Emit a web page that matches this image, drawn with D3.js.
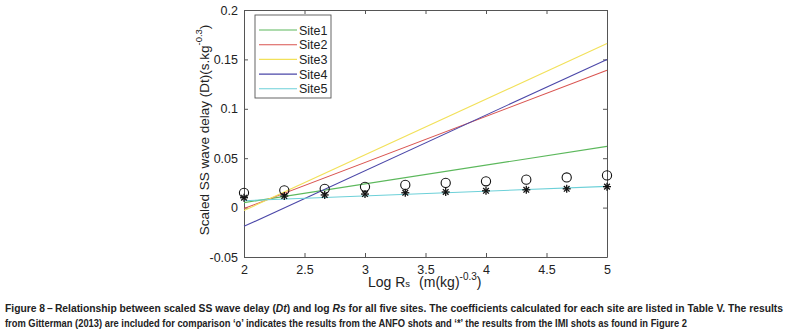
<!DOCTYPE html>
<html>
<head>
<meta charset="utf-8">
<script src="https://cdn.jsdelivr.net/npm/d3@7"></script>
<style>
  body { margin: 0; background: #fff; }
  svg text { font-family: "Liberation Sans", Arial, sans-serif; }
</style>
</head>
<body>
<svg id="mysvg" width="788" height="336"></svg>
<script>
// Fitted lines: value at Log Rs = 2 and at Log Rs = 5
const sites = ['Site1', 'Site2', 'Site3', 'Site4', 'Site5'];
const siteColors = ['#5cb85c', '#d9534f', '#f2e15a', '#4b47a8', '#6cd0d8'];
const lineStart = [0.005, -0.001, -0.003, -0.019, 0.007];
const lineEnd = [0.062, 0.139, 0.166, 0.150, 0.0215];
const lineX = [2, 5];

// Gitterman (2013) points
const logRs = [2, 2.333, 2.667, 3, 3.333, 3.667, 4, 4.333, 4.667, 5];
const anfo = [0.015, 0.0175, 0.019, 0.021, 0.023, 0.025, 0.0266, 0.0283, 0.0305, 0.0326];
const imi = [0.010, 0.0117, 0.0128, 0.0137, 0.015, 0.0158, 0.017, 0.018, 0.019, 0.0212];

const xTicks = [2, 2.5, 3, 3.5, 4, 4.5, 5];
const yTicks = [-0.05, 0, 0.05, 0.1, 0.15, 0.2];

const svg = d3.select('#mysvg');
const margin = {left: 244, right: 181, top: 10, bottom: 79};
const innerWidth = 788 - margin.left - margin.right;
const innerHeight = 336 - margin.top - margin.bottom;

const g = svg.append('g').attr('transform', `translate(${margin.left}, ${margin.top})`);

const x = d3.scaleLinear().domain([2, 5]).range([0, innerWidth]);
const y = d3.scaleLinear().domain([-0.05, 0.2]).range([innerHeight, 0]);

const axisColor = '#555';
const fmtX = d => d3.format('')(d);
const fmtY = d => d === 0 ? '0' : String(+d.toFixed(2));

// Axes (MATLAB style: inward ticks, box)
const xAxis = g.append('g').attr('transform', `translate(0, ${innerHeight})`)
  .call(d3.axisBottom(x).tickValues(xTicks).tickFormat(fmtX).tickSizeInner(-4).tickSizeOuter(0).tickPadding(8));
const xTop = g.append('g')
  .call(d3.axisTop(x).tickValues(xTicks).tickFormat('').tickSizeInner(-4).tickSizeOuter(0));
const yAxis = g.append('g')
  .call(d3.axisLeft(y).tickValues(yTicks).tickFormat(fmtY).tickSizeInner(-4).tickSizeOuter(0).tickPadding(6));
const yRight = g.append('g').attr('transform', `translate(${innerWidth}, 0)`)
  .call(d3.axisRight(y).tickValues(yTicks).tickFormat('').tickSizeInner(-4).tickSizeOuter(0));

xTop.selectAll('text').remove();
yRight.selectAll('text').remove();

[xAxis, xTop, yAxis, yRight].forEach(a => {
  a.selectAll('path').attr('stroke', axisColor);
  a.selectAll('line').attr('stroke', axisColor);
  a.selectAll('text').attr('fill', '#222').style('font-size', '12.5px');
});

// Fitted lines
const lineGen = d3.line().x(d => x(d[0])).y(d => y(d[1]));
sites.forEach((s, i) => {
  g.append('path')
    .datum([[lineX[0], lineStart[i]], [lineX[1], lineEnd[i]]])
    .attr('d', lineGen)
    .attr('fill', 'none')
    .attr('stroke', siteColors[i])
    .attr('stroke-width', 1.1);
});

// ANFO circles
g.selectAll('.anfo')
  .data(logRs)
  .join('circle')
  .attr('class', 'anfo')
  .attr('cx', d => x(d))
  .attr('cy', (d, i) => y(anfo[i]))
  .attr('r', 4.6)
  .attr('fill', 'none')
  .attr('stroke', '#111')
  .attr('stroke-width', 1.1);

// IMI stars
const star = g.selectAll('.imi')
  .data(logRs)
  .join('g')
  .attr('class', 'imi')
  .attr('transform', (d, i) => `translate(${x(d)}, ${y(imi[i])})`);
[0, 45, 90, 135].forEach(a => {
  star.append('line')
    .attr('x1', -4).attr('x2', 4).attr('y1', 0).attr('y2', 0)
    .attr('transform', `rotate(${a})`)
    .attr('stroke', '#111').attr('stroke-width', 1.3);
});

// Legend
const legend = g.append('g').attr('transform', 'translate(11, 5)');
legend.append('rect')
  .attr('width', 76).attr('height', 83)
  .attr('fill', '#fff').attr('stroke', '#555').attr('stroke-width', 0.9);
sites.forEach((s, i) => {
  const ly = 15 + i * 14.7;
  legend.append('line')
    .attr('x1', 4).attr('x2', 42).attr('y1', ly).attr('y2', ly)
    .attr('stroke', siteColors[i]).attr('stroke-width', 1.1);
  legend.append('text')
    .attr('x', 44).attr('y', ly + 4.5)
    .style('font-size', '12.5px').attr('fill', '#222')
    .text(s);
});

// Axis labels
const xl = svg.append('text')
  .attr('x', 368).attr('y', 287)
  .style('font-size', '14px').attr('fill', '#222');
xl.append('tspan').text('Log R');
xl.append('tspan').style('font-size', '9.5px').text('s');
xl.append('tspan').attr('dx', 9).text('(m(kg)');
xl.append('tspan').attr('dy', -7).style('font-size', '10px').text('-0.3');
xl.append('tspan').attr('dy', 7).text(')');

const yl = svg.append('text')
  .attr('transform', 'translate(209, 130) rotate(-90)')
  .attr('text-anchor', 'middle')
  .style('font-size', '13.5px').attr('fill', '#222');
yl.append('tspan').text('Scaled SS wave delay (Dt)(s.kg');
yl.append('tspan').attr('dy', -7).style('font-size', '9.5px').text('-0.3');
yl.append('tspan').attr('dy', 7).text(')');

// Caption
const cap = svg.append('g')
  .style('font-family', '"Liberation Sans Narrow", "Liberation Sans", Arial, sans-serif')
  .style('font-weight', 'bold').style('font-size', '11px').attr('fill', '#222');
const c1 = cap.append('text').attr('x', 5).attr('y', 312).attr('textLength', 778).attr('lengthAdjust', 'spacingAndGlyphs');
c1.append('tspan').text('Figure 8\u2009\u2013\u2009Relationship between scaled SS wave delay (');
c1.append('tspan').style('font-style', 'italic').text('Dt');
c1.append('tspan').text(') and log ');
c1.append('tspan').style('font-style', 'italic').text('Rs');
c1.append('tspan').text(' for all five sites. The coefficients calculated for each site are listed in Table V. The results');
cap.append('text').attr('x', 5).attr('y', 327).attr('textLength', 682).attr('lengthAdjust', 'spacingAndGlyphs')
  .text('from Gitterman (2013) are included for comparison \u2018o\u2019 indicates the results from the ANFO shots and \u2018*\u2019 the results from the IMI shots as found in Figure 2');
</script>
</body>
</html>
